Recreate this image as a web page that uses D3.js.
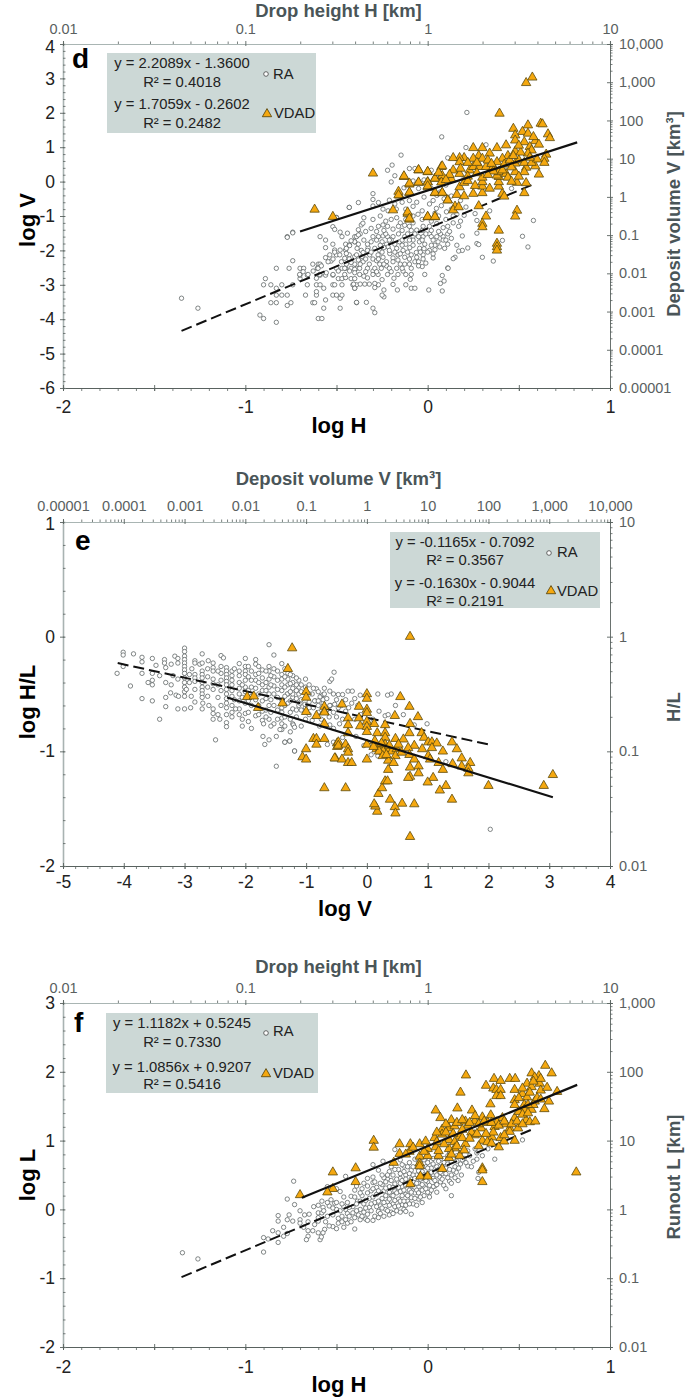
<!DOCTYPE html>
<html>
<head>
<meta charset="utf-8">
<script src="https://cdn.jsdelivr.net/npm/d3@7"></script>
<style>
body { margin: 0; background: #fff; }
svg { display: block; }
text { font-family: "Liberation Sans", Arial, sans-serif; }
</style>
</head>
<body>
<div id="chart"></div>
<script>
// panel d: log H, log V
let raD = [[-1.35,-3.39],[-1.26,-3.68],[-0.92,-3.88],[-0.90,-3.98],[-0.83,-4.09],[-0.60,-3.98],[-0.58,-3.98],[-0.57,-3.68],[-0.48,-3.68],[-0.86,-3.52],[-0.83,-3.52],[-0.77,-3.6],[-0.75,-3.52],[-0.63,-3.52],[-0.62,-3.52],[-0.56,-3.44],[-0.48,-3.39],[-0.39,-3.52],[-0.83,-3.3],[-0.80,-3.3],[-0.77,-3.3],[-0.67,-3.3],[-0.61,-3.3],[-0.61,-3.2],[-0.52,-3.3],[-0.50,-3.3],[-0.47,-3.3],[-0.90,-3.0],[-0.86,-3.0],[-0.83,-3.1],[-0.80,-3.0],[-0.74,-3.0],[-0.66,-3],[-0.61,-3],[-0.59,-3],[-0.57,-3.1],[-0.52,-3],[-0.51,-3],[-0.47,-3],[-0.41,-3],[-0.39,-3],[-0.40,-3.1],[-0.89,-2.82],[-0.70,-2.82],[-0.66,-2.72],[-0.83,-2.52],[-0.76,-2.52],[-0.70,-2.52],[-0.68,-2.52],[-0.74,-2.3],[-0.63,-2.4],[-0.60,-2.4],[-0.59,-2.4],[-0.605,-2.52],[-0.70,-2.72],[-0.61,-2.81],[-0.59,-2.72],[-0.56,-2.72],[-0.52,-2.72],[-0.49,-2.82],[-0.47,-2.82],[-0.45,-2.79],[-0.42,-2.82],[-0.40,-2.82],[-0.50,-2.52],[-0.47,-2.52],[-0.45,-2.52],[-0.42,-2.52],[-0.39,-2.52],[-0.56,-2.21],[-0.53,-2.31],[-0.50,-2.13],[-0.455,-2.23],[-0.43,-2.13],[-0.40,-2.18],[-0.56,-1.92],[-0.52,-1.82],[-0.51,-1.99],[-0.48,-1.99],[-0.45,-1.82],[-0.45,-1.99],[-0.43,-1.84],[-0.40,-1.6],[-0.40,-1.75],[-0.59,-1.6],[-0.56,-1.7],[-0.47,-1.6],[-0.77,-1.6],[-0.74,-1.47],[-0.52,-1.31],[-0.51,-1.39],[-0.48,-1.47],[-0.50,-1.04],[-0.43,-0.75],
[0.077,1.30],[-0.146,0.77],[-0.195,0.48],[-0.22,0.33],[-0.18,0.17],[-0.20,-0.01],[-0.10,0.38],[-0.07,0.38],[-0.30,-0.35],[-0.30,-0.52],[-0.38,-0.61],[-0.43,-0.75],[-0.30,-0.71],[-0.27,-0.61],[-0.21,-0.54],[-0.74,-1.49],[-0.77,-1.62],[-0.50,-1.05],
[0.215,2.01],[0.11,0.69],[0.21,0.99],[0.32,1.07],[0.02,0.33],[0.58,-1.13],[0.52,-1.59],[0.55,-1.9],[0.36,-2.31],[0.30,-2.2],[0.41,-1.71],[0.27,-1.5],[0.27,-1.8],[0.28,-1.83],[0.22,-1.93],[0.19,-2.0],[0.17,-2.02],[0.15,-2.2],[0.14,-2.24],[0.11,-2.51],[0.03,-2.22],[-0.03,-2.47],[0.19,-1.58],[0.27,-1.13],[0.34,-0.85],[0.26,-0.93],[0.21,-0.74],[0.46,-0.2],
[-0.30,-3.68],[-0.29,-3.81],[-0.39,-3.51],[-0.336,-3.51],[-0.24,-3.35],[-0.25,-3.3],[-0.24,-3.15],[-0.166,-3.15],[-0.09,-3.1],[-0.07,-3.1],[0.006,-3.15],[0.08,-3.18],[0.07,-2.96],[0.09,-2.89],[0.08,-2.73],[-0.016,-2.7],[-0.12,-2.7],[-0.09,-2.7],[-0.095,-2.84],[-0.12,-3.0],[-0.19,-2.99],[-0.185,-2.81],[-0.163,-2.7],[-0.27,-3.0],[-0.29,-2.96],[-0.32,-2.98],[-0.345,-2.98],[-0.37,-2.98],[-0.406,-2.98],[-0.29,-3.08],[-0.40,-3.1],
[-0.364,-1.26],[-0.355,-1.21],[-0.38,-1.4],[-0.31,-1.36],[-0.27,-1.3],[-0.245,-1.26],[-0.19,-1.38],[-0.126,-1.27],[-0.06,-1.41],[-0.025,-1.3],[0.01,-1.3],[0.05,-1.22],[0.085,-1.34],
[-0.39,-1.6],[-0.37,-1.52],[-0.30,-1.6],[-0.27,-1.6],[-0.245,-1.58],[-0.22,-1.6],[-0.19,-1.6],[-0.16,-1.52],[-0.126,-1.6],[-0.08,-1.6],[-0.025,-1.6],[0.01,-1.52],[0.05,-1.6],[0.085,-1.6],[0.11,-1.52],
[-0.40,-1.75],[-0.38,-1.82],[-0.31,-1.75],[-0.25,-1.75],[-0.225,-1.82],[-0.20,-1.7],[-0.155,-1.75],[-0.12,-1.82],[-0.08,-1.7],[-0.045,-1.75],[-0.016,-1.82],[0.057,-1.75],[0.085,-1.7],
[-0.446,-1.94],[-0.428,-1.86],[-0.387,-1.94],[-0.364,-2.0],[-0.327,-1.92],[-0.29,-1.94],[-0.263,-2.0],[-0.217,-1.9],[-0.17,-1.94],[-0.135,-2.0],[-0.098,-1.92],[-0.044,-1.94],[0.01,-2.0],[0.066,-1.9],[0.093,-1.94],
[-0.537,-2.13],[-0.51,-2.05],[-0.482,-2.13],[-0.446,-2.09],[-0.39,-2.13],[-0.354,-2.06],[-0.318,-2.13],[-0.272,-2.13],[-0.245,-2.2],[-0.208,-2.09],[-0.163,-2.13],[-0.126,-2.2],[-0.09,-2.13],[-0.062,-2.06],[-0.025,-2.13],[0.03,-2.1],
[-0.546,-2.33],[-0.519,-2.25],[-0.473,-2.33],[-0.446,-2.4],[-0.354,-2.33],[-0.30,-2.25],[-0.263,-2.4],[-0.226,-2.33],[-0.163,-2.28],[-0.126,-2.4],[-0.07,-2.33],[-0.025,-2.25],
[-0.601,-2.52],[-0.628,-2.6],[-0.583,-2.45],[-0.49,-2.6],[-0.455,-2.52],[-0.428,-2.6],[-0.40,-2.55],[-0.373,-2.52],[-0.30,-2.6],[-0.254,-2.52],[-0.226,-2.45],[-0.17,-2.52],[-0.135,-2.6],[0.112,-2.52],
[-0.702,-2.7],[-0.683,-2.62],[-0.656,-2.7],[-0.592,-2.7],[-0.556,-2.65],[-0.519,-2.7],[-0.455,-2.7],[-0.40,-2.65],[-0.373,-2.7],[-0.30,-2.7],[-0.272,-2.7],
[-0.245,-0.8],[-0.217,-0.85],[-0.172,-0.8],[-0.117,-0.95],[-0.08,-0.72],[-0.053,-0.95],[0.01,-0.65],[0.048,-0.78],[0.075,-0.7],[0.103,-0.88],[-0.35,-1.05],[-0.30,-1.1],[-0.26,-1.0],[-0.23,-1.15],[-0.2,-1.1],[-0.17,-1.05],[-0.15,-1.2],[-0.12,-1.1],[-0.08,-1.2],[-0.03,-1.1],[0.02,-1.15],[0.06,-1.0],[0.1,-1.1],[0.14,-1.2],[0.16,-0.95],[0.13,-0.8],[0.17,-1.3],[0.12,-1.45],[0.18,-0.55],[0.13,-0.42],[0.09,-0.5],[0.05,-0.4],[0.03,-0.55],[0.1,-0.1],[0.2,0.1],[-0.02,0.05],[-0.08,0.02],[0.13,-1.65],[0.16,-1.85],[-0.01,-2.37],[0.04,-1.98],
[-0.35,-1.7],[-0.33,-1.82],[-0.28,-1.7],[-0.26,-1.85],[-0.23,-1.52],[-0.21,-1.7],[-0.18,-1.82],[-0.14,-1.7],[-0.11,-1.52],[-0.1,-1.7],[-0.07,-1.52],[-0.05,-1.6],[-0.03,-1.7],[-0.01,-1.52],[0.02,-1.6],[0.03,-1.7],[0.04,-1.85],[0.07,-1.52],[0.1,-1.7],[0.11,-1.82],[-0.36,-2.18],[-0.34,-2.25],[-0.33,-2.0],[-0.31,-2.05],[-0.28,-2.3],[-0.25,-2.05],[-0.24,-1.92],[-0.21,-2.0],[-0.19,-2.22],[-0.18,-2.05],[-0.15,-2.1],[-0.14,-1.85],[-0.11,-2.05],[-0.1,-2.25],[-0.08,-1.85],[-0.06,-2.2],[-0.04,-2.05],[-0.02,-1.95],[0.0,-2.05],[0.02,-1.85],[-0.4,-2.4],[-0.38,-2.28],[-0.37,-2.4],[-0.33,-2.52],[-0.32,-2.4],[-0.29,-2.52],[-0.27,-2.25],[-0.24,-2.4],[-0.21,-2.52],[-0.19,-2.33],[-0.15,-2.4],[-0.14,-2.52],[-0.1,-2.4],[-0.09,-2.52],[-0.05,-2.33],[-0.05,-2.45],[-0.43,-2.25],[-0.42,-2.35],[-0.34,-2.62],[-0.35,-2.75],[-0.33,-2.8],[-0.28,-2.62],[-0.25,-2.85],[-0.22,-2.7],[-0.2,-2.62],[-0.42,-1.72],[-0.44,-1.5],[-0.38,-1.55],[-0.34,-1.45],[-0.28,-1.45],[-0.24,-1.42],[-0.22,-1.3],[-0.16,-1.3],[-0.14,-1.42],[-0.1,-1.3],[-0.09,-1.42],[-0.03,-1.42],[0.02,-1.42],[0.06,-1.45],[0.11,-1.3],[0.14,-1.0],[-0.12,-0.8],[-0.03,-0.85],[0.0,-1.0],[-0.06,-0.6],[-0.1,-0.55],[-0.18,-0.65],[-0.14,-0.6],[-0.02,-0.45],[0.07,-0.3],[0.02,-0.2],[-0.05,-0.2],[-0.13,-0.18],[-0.08,-1.0],[0.04,-0.92],[0.18,-1.15],[0.2,-0.98]];
let vdadD = [[0.574,3.03],[0.54,2.87],[0.394,1.98],[0.62,1.69],[0.63,1.67],[0.55,1.64],[0.47,1.54],[0.52,1.45],[0.55,1.40],[0.48,1.35],[0.48,1.2],[0.66,1.38],[0.67,1.27],[0.53,1.15],[0.59,1.18],[0.61,1.08],[0.56,1.01],[0.57,0.91],[0.55,0.82],[0.43,1.06],[0.48,0.88],[0.38,0.98],[0.34,0.82],[0.30,0.98],[0.25,0.98],[0.28,0.75],[0.44,0.75],[0.41,0.67],[0.38,0.57],[0.30,0.67],[0.25,0.67],[0.20,0.69],[0.175,0.69],[0.14,0.69],[0.175,0.57],[0.65,0.79],[0.64,0.67],[0.64,0.55],[0.59,0.45],[0.54,0.41],[0.53,0.28],[0.48,0.53],[0.48,0.28],[0.61,0.21],[0.54,-0.04],[0.49,-0.03],[0.53,-0.33],[0.41,-0.35],[0.42,-0.43],[0.49,-0.84],[0.48,-1.01],[0.32,-1.01],[0.30,-1.22],[0.30,-1.32],[0.39,-1.42],[0.38,-1.8],[0.38,-1.9],[0.38,-2.0],[0.28,-0.71],[0.15,-0.72],[0.14,-0.83],[0.17,-0.74],[0.11,-0.54],[0.16,-0.38],[0.20,-0.42],[0.25,-0.35],[0.30,-0.33],[0.30,-0.14],[0.30,-0.01],[0.30,0.12],[0.39,-0.14],[0.39,-0.01],[0.39,0.14],[0.175,-0.16],[0.20,-0.03],[0.175,0.23],[0.14,0.33],[0.075,0.43],[0.075,0.14],[0.08,-0.33],[0.04,-0.33],[0.04,0.09],[0,0.28],[-0.05,0.33],[0,-0.01],[0,-0.16],[-0.05,-0.03],[-0.10,-0.08],[-0.10,-0.33],[-0.13,0.14],[-0.155,-0.4],[-0.11,-0.93],[-0.10,-1.1],[0,-1.03],[0.04,-1.03],[0.23,0.33],[0.25,0.43],[0.285,0.43],[0.32,0.43],[0.36,0.43],[0.38,0.18],[0.39,0.28],[0.43,0.23],[0.41,0.33],[0.13,0.07],[-0.30,0.24],[-0.62,-0.81],[-0.52,-1.02],[-0.13,0.16],[-0.05,0.34],[0,0.29],[0.08,0.45],[0.04,0.09],[0.08,0.17],[-0.10,-0.05],[-0.05,-0.02],[0,-0.02],[0,-0.13],[0.075,-0.02],[-0.16,-0.29],[-0.16,-0.39],[-0.10,-0.31],[0.04,-0.32],[0.08,-0.32],[0.11,-0.54],[-0.19,-0.83],[-0.11,-0.89],[-0.10,-1.07],[0,-1.02],[0.04,-1.02],
[0.22,0.55],[0.27,0.55],[0.33,0.62],[0.35,0.52],[0.42,0.5],[0.45,0.62],[0.46,0.42],[0.5,0.62],[0.53,0.55],[0.57,0.55],[0.6,0.65],[0.56,0.7],[0.36,0.3],[0.33,0.2],[0.27,0.25],[0.22,0.15],[0.18,0.38],[0.12,0.2],[0.44,0.12],[0.5,0.15],[0.46,0.0],[0.26,-0.12],[0.34,-0.2],[0.22,0.02],[0.1,0.05],[0.06,0.26],[0.47,0.75],[0.51,0.85],[0.58,1.3],[0.5,1.05]];
let raFitD = [[-1.35,-4.34],[0.58,-0.08]];
let vdadFitD = [[-0.70,-1.45],[0.82,1.14]];

// panel e: log V, log H/L
let raE = [[-4.01,-0.136],[-4.01,-0.16],[-4.11,-0.32],[-3.84,-0.15],[-3.70,-0.18],[-3.70,-0.22],[-4.01,-0.26],[-3.89,-0.43],[-3.70,-0.32],[-3.53,-0.19],[-3.47,-0.25],[-3.70,-0.54],[-3.53,-0.56],[-3.60,-0.40],[-3.53,-0.38],[-3.53,-0.42],[-3.53,-0.32],[-3.41,-0.72],[-3.31,-0.61],[-3.31,-0.53],[-3.23,-0.49],[-3.31,-0.40],[-3.41,-0.34],[-3.33,-0.20],[-3.33,-0.23],[-3.31,-0.27],[-3.16,-0.17],[-3.11,-0.19],[-3.11,-0.23],[-3.19,-0.34],[-3.11,-0.37],[-3.14,-0.51],[-3.10,-0.52],[-3.11,-0.63],[-3.0,-0.63],
[-3,-0.10],[-3,-0.13],[-3,-0.17],[-3,-0.2],[-3,-0.23],[-3,-0.26],[-3,-0.29],[-3,-0.32],[-3,-0.36],[-3,-0.4],[-3,-0.44],[-3,-0.48],[-3,-0.52],[-2.97,-0.46],[-2.89,-0.52],[-2.83,-0.33],[-2.83,-0.36],[-2.83,-0.21],[-2.83,-0.23],[-2.71,-0.15],[-2.75,-0.24],[-2.71,-0.23],[-2.83,-0.57],[-2.71,-0.63],[-2.83,-0.39],[-2.83,-0.46],
[-2.71,-0.30],[-2.71,-0.33],[-2.71,-0.36],[-2.71,-0.4],[-2.71,-0.44],[-2.71,-0.47],[-2.71,-0.5],[-2.71,-0.53],[-2.61,-0.21],[-2.53,-0.23],[-2.53,-0.27],[-2.53,-0.3],[-2.53,-0.37],[-2.53,-0.41],[-2.53,-0.46],[-2.53,-0.63],[-2.53,-0.67],[-2.53,-0.72],[-2.49,-0.90],[-2.40,-0.165],[-2.36,-0.185],[-2.40,-0.26],[-2.40,-0.32],[-2.40,-0.38],[-2.40,-0.47],[-2.40,-0.6],[-2.45,-0.53],
[-2.31,-0.27],[-2.31,-0.30],[-2.31,-0.33],[-2.31,-0.36],[-2.31,-0.39],[-2.31,-0.42],[-2.31,-0.46],[-2.31,-0.5],[-2.31,-0.54],[-2.31,-0.58],[-2.31,-0.62],[-2.31,-0.68],[-2.31,-0.75],[-2.31,-0.785],
[-2.22,-0.3],[-2.22,-0.34],[-2.22,-0.38],[-2.22,-0.42],[-2.22,-0.47],[-2.22,-0.52],[-2.22,-0.6],[-2.22,-0.66],[-2.22,-0.7],[-2.1,-0.235],[-2.1,-0.3],[-2.1,-0.34],[-2.1,-0.4],[-2.1,-0.45],[-2.1,-0.5],[-2.1,-0.56],[-2.1,-0.63],[-2.1,-0.68],[-2.0,-0.19],[-2.0,-0.26],[-2.0,-0.3],[-2.0,-0.33],[-2.0,-0.38],[-2.0,-0.44],[-2.0,-0.48],[-2.0,-0.58],[-2.0,-0.67],[-1.9,-0.3],[-1.9,-0.38],[-1.9,-0.44],[-1.9,-0.52],[-1.9,-0.6],[-1.83,-0.2],[-1.83,-0.24],[-1.83,-0.33],[-1.83,-0.38],[-1.83,-0.45],[-1.83,-0.55],[-1.83,-0.69],
[-1.72,-0.29],[-1.72,-0.36],[-1.72,-0.42],[-1.72,-0.47],[-1.72,-0.56],[-1.72,-0.65],[-1.72,-0.73],[-1.61,-0.07],[-1.61,-0.26],[-1.61,-0.3],[-1.61,-0.37],[-1.61,-0.44],[-1.61,-0.5],[-1.61,-0.6],[-1.61,-0.72],[-1.53,-0.16],[-1.53,-0.28],[-1.53,-0.35],[-1.53,-0.43],[-1.53,-0.5],[-1.53,-0.6],[-1.53,-0.76],[-1.40,-0.235],[-1.40,-0.33],[-1.40,-0.37],[-1.40,-0.42],[-1.40,-0.47],[-1.40,-0.55],[-1.40,-0.62],[-1.40,-0.66],[-1.40,-0.71],[-1.40,-0.76],[-1.40,-0.81],[-1.30,-0.32],[-1.30,-0.37],[-1.30,-0.42],[-1.30,-0.5],[-1.30,-0.58],[-1.22,-0.34],[-1.22,-0.4],[-1.22,-0.45],[-1.22,-0.53],[-1.22,-0.63],[-1.22,-0.76],[-1.12,-0.38],[-1.12,-0.44],[-1.12,-0.5],[-1.12,-0.6],[-1.01,-0.37],[-1.01,-0.44],[-1.01,-0.62],[-1.01,-0.72],[-0.83,-0.455],[-0.9,-0.5],[-0.85,-0.56],[-0.75,-0.52],[-0.72,-0.58],[-0.61,-0.39],[-0.58,-0.37],[-0.54,-0.31],[-0.6,-0.6],[-1.49,-1.13],[-1.19,-0.997],[-1.71,-0.87],[-1.61,-0.9],[-1.68,-0.94],[-1.49,-0.87],[-1.43,-0.81],[-1.35,-0.92],[-1.27,-0.91],
[2.03,-1.68],[0.99,-0.76],[0.78,-0.77],[0.60,-0.68],[0.40,-0.50],[0.34,-0.51],[0.47,-0.60],[0.18,-0.50],[0.20,-0.65],[0.30,-0.69],[0.35,-0.68],[-0.20,-0.54],[-0.11,-0.51],[-0.31,-0.475],[-0.24,-0.475],[-0.47,-0.505],[-0.40,-0.505],[-0.61,-0.475],[-0.61,-0.60],[-0.53,-0.59],[-0.47,-0.62],[-0.77,-0.525],[-0.72,-0.505],[-0.72,-0.55],[-0.86,-0.56],[-1.19,-0.997],[-1.27,-0.91],[-1.35,-0.92],[-1.21,-0.77],[-1.19,-0.79],[-1.10,-0.58],[-1.02,-0.59],[-1.31,-0.50],[-1.22,-0.50],[-0.65,-0.94],[-0.55,-0.92],[-0.61,-0.77],[0.07,-1.03],[0.18,-1.04],[1.30,-1.09],[-0.95,-0.68],[-0.9,-0.73],[-0.8,-0.66],[-0.75,-0.72],[-0.5,-0.7],[-0.45,-0.76],[-0.3,-0.62],[-0.2,-0.72],[-0.1,-0.68],[0.1,-0.72],[-0.4,-0.88],[-0.18,-0.87],[-0.05,-0.95],
[-2.7,-0.58],[-2.62,-0.35],[-2.62,-0.44],[-2.62,-0.52],[-2.6,-0.6],[-2.45,-0.3],[-2.45,-0.42],[-2.45,-0.68],[-2.18,-0.28],[-2.18,-0.55],[-2.16,-0.63],[-2.05,-0.42],[-2.05,-0.53],[-2.05,-0.72],[-2.05,-0.78],[-1.95,-0.26],[-1.95,-0.35],[-1.95,-0.47],[-1.95,-0.56],[-1.95,-0.66],[-1.95,-0.74],[-1.9,-0.8],[-1.78,-0.26],[-1.78,-0.32],[-1.78,-0.4],[-1.78,-0.5],[-1.78,-0.6],[-1.78,-0.68],[-1.7,-0.76],[-1.66,-0.3],[-1.66,-0.4],[-1.66,-0.47],[-1.66,-0.54],[-1.66,-0.64],[-1.66,-0.7],[-1.58,-0.34],[-1.58,-0.42],[-1.58,-0.55],[-1.58,-0.66],[-1.58,-0.78],[-1.47,-0.3],[-1.47,-0.38],[-1.47,-0.46],[-1.47,-0.53],[-1.47,-0.64],[-1.47,-0.72],[-1.35,-0.28],[-1.35,-0.35],[-1.35,-0.44],[-1.35,-0.52],[-1.35,-0.6],[-1.35,-0.7],[-1.35,-0.78],[-1.26,-0.33],[-1.26,-0.41],[-1.26,-0.48],[-1.26,-0.56],[-1.26,-0.66],[-1.26,-0.72],[-1.26,-0.83],[-1.16,-0.36],[-1.16,-0.42],[-1.16,-0.47],[-1.16,-0.54],[-1.16,-0.64],[-1.16,-0.7],[-1.08,-0.42],[-1.08,-0.48],[-1.08,-0.55],[-1.08,-0.64],[-1.08,-0.78],[-0.95,-0.42],[-0.95,-0.5],[-0.95,-0.57],[-0.95,-0.62],[-0.88,-0.45],[-0.88,-0.62],[-0.8,-0.48],[-0.8,-0.56],[-0.8,-0.6],[-0.7,-0.45],[-0.7,-0.5],[-0.66,-0.54],[-0.66,-0.64],[-0.55,-0.5],[-0.5,-0.55],[-0.42,-0.6],[-0.35,-0.55],[-0.25,-0.58],[-0.15,-0.6],[-0.35,-0.65],[-0.55,-0.66],[-0.4,-0.72],[-0.62,-0.7],[-0.78,-0.78],[-0.55,-0.8],[-2.92,-0.33],[-2.92,-0.4],[-2.62,-0.28],[-2.88,-0.28],[-3.22,-0.24],[-3.22,-0.42],[-2.9,-0.62],[-2.42,-0.72]];
let vdadE = [[-1.23,-0.10],[-1.30,-0.28],[-1.97,-0.525],[-1.86,-0.52],[-1.79,-0.62],[-1.39,-0.58],[-1.0,-0.48],[-1.0,-0.53],[-1.0,-0.655],[-0.83,-0.69],[-0.70,-0.61],[-0.70,-0.655],[-0.70,-0.76],[-0.88,-0.89],[-0.83,-0.89],[-0.70,-0.89],[-0.83,-0.94],[-1.0,-0.98],[-1.06,-1.05],[-1.0,-1.07],[-0.52,-1.06],[-0.49,-0.93],[-0.49,-0.96],
[3.06,-1.205],[2.91,-1.30],[2.0,-1.30],[1.40,-1.42],[0.78,-1.46],[0.58,-1.455],[0.46,-1.485],[0.47,-1.54],[0.17,-1.525],[0.14,-1.48],[0.12,-1.46],[0.38,-1.42],[0.19,-1.37],[0.25,-1.32],[0.30,-1.26],[0.34,-1.26],[0.71,-1.745],[-0.35,-1.32],[-0.53,-1.06],[-0.41,-1.07],[-0.31,-1.10],[-0.25,-1.10],[0,-1.07],[-0.47,-0.92],[-0.47,-0.95],[-0.35,-0.94],[-0.31,-0.98],[-0.31,-1.01],[-0.70,-0.66],[-0.41,-0.59],[-0.13,-0.61],[0,-0.50],[0,-0.54],[0,-0.635],[0,-0.665],[-0.31,-0.71],[-0.31,-0.77],[-0.13,-0.71],[-0.11,-0.78],[0.12,-0.76],[0,-0.74],[0,-0.785],[0,-0.83],[-0.31,-0.84],[0.17,-0.84],[0.30,-0.77],[0.30,-0.84],[0.30,-0.88],[0.47,-0.89],[0.60,-0.895],[0.70,-0.84],[0.71,-0.76],[0.55,-0.525],[0.70,-0.61],[0.46,-0.69],[0.84,-0.70],[0.90,-0.84],[0.94,-0.88],[1.01,-0.92],[1.07,-0.92],[1.15,-0.93],[1.07,-0.97],[1.40,-0.92],[1.48,-0.98],[1.25,-1.0],[0.91,-0.98],[0.78,-0.95],[0.68,-0.97],[0,-0.94],[0.13,-0.91],[0.16,-0.98],[0.22,-0.97],[0.30,-0.94],[0.33,-0.98],[0.41,-1.0],[0.49,-0.98],[0.47,-1.04],[0.57,-1.01],[0.70,-1.03],[0.78,-1.07],[1.01,-1.04],[1.04,-1.07],[1.18,-1.10],[1.41,-1.11],[1.56,-1.06],[1.56,-1.13],[1.70,-1.10],[1.67,-1.15],[1.67,-1.19],[1.25,-1.16],[0.85,-1.13],[0.85,-1.19],[0.71,-1.14],[0.71,-1.22],[0.68,-1.23],[1.09,-1.23],[1.0,-1.27],[1.30,-1.30],[1.20,-1.34],[0.35,-1.08],[0.44,-1.10],[0.35,-1.16],[0.71,0.0],[0.24,-0.93],[0.27,-1.0],[0.37,-0.95],[0.52,-0.94],[0.2,-1.0],[0.26,-1.04],[0.32,-1.03],[0.11,-0.96],[-0.7,-1.32]];
let raFitE = [[-4.1,-0.23],[2.0,-0.94]];
let vdadFitE = [[-2.3,-0.53],[3.06,-1.40]];

// panel f: log H, log L
let raF = [[-1.345,-0.63],[-1.26,-0.72],[-0.90,-0.62],[-0.735,0.41],[-0.77,0.15],[-0.73,0.07],[-0.82,-0.09],[-0.82,-0.17],[-0.79,-0.26],[-0.76,-0.08],[-0.77,-0.15],[-0.74,-0.17],[-0.70,-0.15],[-0.70,-0.20],[-0.85,-0.31],[-0.82,-0.34],[-0.79,-0.39],[-0.77,-0.35],[-0.82,-0.48],[-0.875,-0.43],[-0.90,-0.41],[-0.675,-0.08],[-0.65,-0.07],[-0.656,-0.18],[-0.656,-0.31],[-0.63,-0.31],[-0.656,-0.39],[-0.665,-0.44],[-0.59,-0.44],[-0.583,-0.40],[-0.565,-0.29],[-0.574,-0.34],[-0.60,-0.34],[-0.62,-0.22],[-0.60,-0.17],[-0.60,-0.12],[-0.625,0.04],[-0.60,0.06],[-0.574,0.03],[-0.60,-0.05],[-0.58,-0.05],[-0.55,0.33],[-0.45,0.48],[-0.30,0.65],[-0.245,0.70],[-0.18,0.87],[-0.40,-0.285],[-0.09,-0.07],[0.13,0.20],[0.01,0.24],[0.01,0.18],[0.368,0.73],[0.52,1.01],[0.276,0.45],[0.28,0.54],[0.22,0.63],[0.185,0.50],[0.157,0.54],[0.167,0.42],[0.12,0.41],[0.088,0.35],[0.04,0.34],[0.066,0.47],[0.27,0.82],[0.27,0.73],
[-0.53,0.14],[-0.51,0.09],[-0.54,0.05],[-0.50,0.0],[-0.52,-0.08],[-0.49,-0.13],[-0.47,-0.1],[-0.45,-0.15],[-0.44,-0.2],[-0.52,-0.25],[-0.49,-0.2],[-0.48,-0.02],[-0.46,0.04],[-0.44,0.1],[-0.42,0.19],[-0.41,-0.05],[-0.41,0.04],[-0.40,0.28],[-0.39,0.34],[-0.385,0.12],[-0.38,-0.08],[-0.37,0.0],[-0.36,0.2],[-0.35,0.38],[-0.35,0.08],[-0.34,-0.14],[-0.33,-0.07],[-0.32,0.03],[-0.32,0.16],[-0.31,0.27],[-0.30,0.47],[-0.30,0.39],[-0.29,-0.1],[-0.29,0.1],[-0.28,0.22],[-0.28,0.32],[-0.27,-0.03],[-0.26,0.05],[-0.25,0.16],[-0.25,0.36],[-0.24,0.27],[-0.24,-0.1],[-0.23,0.0],[-0.22,0.44],[-0.22,0.11],[-0.21,0.33],[-0.21,0.55],[-0.20,0.21],[-0.20,-0.04],[-0.19,0.5],[-0.19,0.08],[-0.18,0.27],[-0.18,0.37],[-0.17,-0.02],[-0.16,0.58],[-0.16,0.15],[-0.15,0.45],[-0.15,0.26],[-0.14,0.07],[-0.14,0.33],[-0.13,0.63],[-0.13,0.0],[-0.12,0.22],[-0.12,0.5],[-0.11,0.38],[-0.11,0.12],[-0.10,0.68],[-0.10,0.28],[-0.09,0.57],[-0.09,0.44],[-0.09,0.17],[-0.08,0.08],[-0.08,0.33],[-0.07,0.73],[-0.07,0.24],[-0.06,0.5],[-0.06,0.62],[-0.05,0.15],[-0.05,0.38],[-0.04,0.28],[-0.04,0.7],[-0.03,0.45],[-0.03,0.55],[-0.02,0.2],[-0.02,0.33],[-0.01,0.62],[-0.01,0.75],[0.0,0.4],[0.0,0.52],[0.0,0.25],[0.02,0.6],[0.02,0.7],[0.03,0.45],[0.03,0.33],[0.04,0.54],[0.05,0.76],[0.05,0.62],[0.07,0.68],[0.07,0.4],[0.08,0.52],[0.09,0.74],[0.1,0.6],[0.11,0.46],[0.12,0.82],[0.13,0.7],[0.14,0.57],[0.16,0.78],[0.18,0.66],[0.2,0.74],[0.22,0.85],[-0.15,0.72],[-0.2,0.62],[-0.24,0.46],[-0.27,0.57],[-0.33,0.45],[-0.36,0.3],[-0.4,0.18],[-0.46,0.18],[-0.48,0.26],[-0.5,0.3],[-0.44,-0.06],[-0.37,-0.15],[-0.3,-0.16],[-0.21,-0.08],[-0.15,-0.04],[-0.06,0.06],[-0.03,0.1],[0.05,0.25],[0.1,0.3],[0.13,0.38],[0.15,0.46],[-0.55,-0.1],[-0.57,-0.02],[-0.5,-0.28],[-0.46,-0.26],
[-0.47,0.08],[-0.45,0.0],[-0.43,0.03],[-0.43,-0.1],[-0.4,-0.12],[-0.39,-0.02],[-0.39,0.08],[-0.37,0.12],[-0.37,0.24],[-0.35,-0.04],[-0.34,0.02],[-0.34,0.13],[-0.33,0.24],[-0.33,0.34],[-0.31,-0.02],[-0.31,0.08],[-0.3,0.18],[-0.3,0.3],[-0.29,0.4],[-0.28,0.04],[-0.27,0.12],[-0.27,0.27],[-0.26,0.38],[-0.26,-0.06],[-0.25,0.02],[-0.25,0.5],[-0.24,0.1],[-0.23,0.2],[-0.23,0.31],[-0.23,0.4],[-0.22,-0.02],[-0.22,0.5],[-0.21,0.06],[-0.21,0.15],[-0.21,0.25],[-0.2,0.42],[-0.19,0.32],[-0.19,0.2],[-0.18,0.13],[-0.18,0.04],[-0.18,0.58],[-0.17,0.44],[-0.17,0.24],[-0.16,0.32],[-0.16,0.05],[-0.15,0.12],[-0.15,0.38],[-0.15,0.52],[-0.14,0.2],[-0.14,0.42],[-0.14,0.65],[-0.13,0.28],[-0.13,0.12],[-0.13,0.55],[-0.12,0.06],[-0.12,0.35],[-0.12,0.44],[-0.11,0.2],[-0.11,0.62],[-0.1,0.35],[-0.1,0.52],[-0.1,0.08],[-0.09,0.25],[-0.08,0.4],[-0.08,0.5],[-0.08,0.62],[-0.07,0.16],[-0.07,0.32],[-0.07,0.45],[-0.06,0.28],[-0.06,0.38],[-0.05,0.56],[-0.05,0.68],[-0.05,0.24],[-0.04,0.44],[-0.04,0.18],[-0.03,0.36],[-0.03,0.62],[-0.03,0.28],[-0.02,0.5],[-0.02,0.72],[-0.01,0.42],[-0.01,0.3],[0.0,0.6],[0.0,0.68],[0.01,0.35],[0.01,0.48],[0.02,0.28],[0.02,0.54],[0.03,0.66],[0.03,0.74],[0.04,0.42],[0.05,0.5],[0.05,0.36],[0.06,0.58],[0.06,0.7],[0.07,0.54],[0.08,0.44],[0.08,0.62],[0.09,0.68],[0.1,0.52],[0.11,0.66],[0.11,0.78],[0.12,0.58],[0.13,0.5],[0.14,0.74],[0.15,0.62],[0.16,0.7],[0.17,0.6],[0.18,0.82],[0.19,0.72],[0.2,0.86],[0.21,0.68],[0.23,0.78],[0.24,0.62],[0.25,0.7],[0.26,0.88],[0.3,0.78],[0.33,0.88],[-0.5,0.1],[-0.52,0.02],[-0.47,-0.18],[-0.42,-0.18],[-0.36,-0.1],[-0.33,-0.16],[-0.27,-0.12],[-0.19,-0.06],[-0.12,-0.03],[-0.68,-0.26],[-0.7,-0.02],[-0.56,-0.18],[-0.54,-0.24],[-0.55,0.1],[-0.58,0.12]];
let vdadF = [[0.645,2.09],[0.68,1.98],[0.57,1.98],[0.61,1.94],[0.587,1.92],[0.21,1.95],[0.364,1.90],[0.40,1.87],[0.45,1.90],[0.48,1.90],[0.32,1.80],[0.36,1.76],[0.377,1.74],[0.40,1.74],[0.377,1.65],[0.40,1.65],[0.18,1.70],[0.477,1.74],[0.545,1.83],[0.57,1.78],[0.614,1.83],[0.62,1.73],[0.655,1.77],[0.71,1.71],[0.665,1.57],[0.64,1.46],[0.587,1.57],[0.52,1.68],[0.545,1.63],[0.477,1.59],[0.477,1.52],[0.53,1.52],[0.53,1.45],[0.57,1.45],[0.344,1.53],[0.346,1.37],[0.163,1.47],[0.243,1.44],[0.044,1.44],[0.07,1.33],[0.13,1.30],[0.207,1.28],[0.258,1.28],[0.30,1.34],[0.41,1.33],[0.477,1.33],[0.54,1.30],[0.56,1.27],[0.59,1.28],[0.117,1.18],[0.148,1.21],[0.079,1.16],[0.079,1.09],[0.294,1.18],[0.367,1.20],[0.45,1.18],[0.496,1.18],[0.45,1.13],[0.038,1.04],[0.117,1.01],[0.176,1.06],[0.258,1.08],[0.353,1.05],[0.40,1.04],[0.419,0.99],[0.30,1.0],[0.327,0.98],[0.477,1.0],[0.28,0.92],[0.39,0.905],[0.207,0.95],[0.148,0.98],[0.148,0.89],[0.117,0.88],[0.044,0.905],[0.0,0.88],[-0.044,0.95],[-0.011,0.99],[-0.095,0.95],[-0.154,0.95],[-0.296,1.0],[-0.296,0.90],[-0.154,0.81],[-0.10,0.84],[-0.044,0.77],[0.0,0.78],[0.06,0.78],[0.117,0.75],[0.176,0.78],[-0.044,0.67],[-0.044,0.63],[-0.186,0.68],[0.08,0.59],[0.30,0.60],[0.30,0.57],[0.30,0.40],[-0.04,0.48],[0.0,0.48],[-0.095,0.37],[-0.395,0.60],[-0.52,0.54],[-0.395,0.40],[-0.52,0.30],[-0.55,0.25],[-0.70,0.21],[0.815,0.54],[0.22,1.22],[0.26,1.36],[0.33,1.26],[0.38,1.27],[0.43,1.24],[0.5,1.42],[0.52,1.38],[0.19,1.16],[0.24,1.12],[0.36,1.12],
[0.1,1.24],[0.16,1.26],[0.19,1.3],[0.23,1.26],[0.28,1.24],[0.31,1.28],[0.35,1.26],[0.39,1.22],[0.42,1.28],[0.46,1.24],[0.49,1.28],[0.52,1.24],[0.55,1.4],[0.58,1.52],[0.6,1.62],[0.62,1.6],[0.5,1.62],[0.56,1.7],[0.52,1.76],[0.58,1.86],[0.62,1.9],[0.55,1.52],[0.05,1.12],[0.1,1.12],[0.14,1.1],[0.19,1.04],[0.23,1.03],[0.27,1.1],[0.32,1.1],[0.05,0.98],[0.09,0.95],[0.2,0.86],[0.13,0.8],[-0.02,0.84],[-0.08,0.9],[0.06,0.85],[0.35,0.96],[0.42,1.08],[0.16,0.92],[-0.12,0.8]];
let raFitF = [[-1.35,-0.985],[0.58,1.17]];
let vdadFitF = [[-0.69,0.17],[0.82,1.81]];

let panels = [
    {letter: "d", top: 44, xDomain: [-2, 1], yDomain: [4, -6], xLabels: [-2, -1, 0, 1], xMajor: 0.5, xMinor: 0.1, yLabels: [4, 3, 2, 1, 0, -1, -2, -3, -4, -5, -6],
     xTitle: "log H", yTitle: "log V", topTitle: "Drop height H [km]", rightTitle: "Deposit volume V [km³]",
     topDomain: [0.01, 10], topLabels: ["0.01", "0.1", "1", "10"], rightDomain: [0.00001, 10000], rightLabels: ["0.00001", "0.0001", "0.001", "0.01", "0.1", "1", "10", "100", "1,000", "10,000"],
     ra: raD, vdad: vdadD, raFit: raFitD, vdadFit: vdadFitD,
     box: [107, 53, 209, 80], eqX: 182, eqY: [68, 87, 109, 128],
     eq: ["y = 2.2089x - 1.3600", "R² = 0.4018", "y = 1.7059x - 0.2602", "R² = 0.2482"],
     raKey: [266, 74, 273, 79], vdadKey: [267, 114, 274, 118], letterPos: [72, 68],
     topTitleY: -27, topLabelY: -10, firstLabelDy: "0.5em", bottomLabelY: 25, xTitleX: 274, xTitleY: 45, yTitleDy: 4, rightTitleDy: -2},
    {letter: "e", top: 522, xDomain: [-5, 4], yDomain: [1, -2], xLabels: [-5, -4, -3, -2, -1, 0, 1, 2, 3, 4], xMajor: 1, xMinor: 0.2, yLabels: [1, 0, -1, -2],
     xTitle: "log V", yTitle: "log H/L", topTitle: "Deposit volume V [km³]", rightTitle: "H/L",
     topDomain: [0.00001, 10000], topLabels: ["0.00001", "0.0001", "0.001", "0.01", "0.1", "1", "10", "100", "1,000", "10,000"], rightDomain: [0.01, 10], rightLabels: ["0.01", "0.1", "1", "10"],
     ra: raE, vdad: vdadE, raFit: raFitE, vdadFit: vdadFitE,
     box: [390, 532, 210, 76], eqX: 465, eqY: [547, 565, 588, 606],
     eq: ["y = -0.1165x - 0.7092", "R² = 0.3567", "y = -0.1630x - 0.9044", "R² = 0.2191"],
     raKey: [549, 553, 557, 557], vdadKey: [551, 591, 557, 596], letterPos: [75, 550],
     topTitleY: -37, topLabelY: -11, firstLabelDy: "0.4em", bottomLabelY: 22, xTitleX: 280, xTitleY: 50, yTitleDy: 8, rightTitleDy: 13},
    {letter: "f", top: 1003, xDomain: [-2, 1], yDomain: [3, -2], xLabels: [-2, -1, 0, 1], xMajor: 0.5, xMinor: 0.1, yLabels: [3, 2, 1, 0, -1, -2],
     xTitle: "log H", yTitle: "log L", topTitle: "Drop height H [km]", rightTitle: "Runout L [km]",
     topDomain: [0.01, 10], topLabels: ["0.01", "0.1", "1", "10"], rightDomain: [0.01, 1000], rightLabels: ["0.01", "0.1", "1", "10", "100", "1,000"],
     ra: raF, vdad: vdadF, raFit: raFitF, vdadFit: vdadFitF,
     box: [106, 1013, 212, 80], eqX: 182, eqY: [1028, 1047, 1072, 1089],
     eq: ["y = 1.1182x + 0.5245", "R² = 0.7330", "y = 1.0856x + 0.9207", "R² = 0.5416"],
     raKey: [266, 1033, 273, 1036], vdadKey: [266, 1074, 273, 1078], letterPos: [74, 1032],
     topTitleY: -30, topLabelY: -10, firstLabelDy: "0.32em", bottomLabelY: 26, xTitleX: 274, xTitleY: 45, yTitleDy: 0, rightTitleDy: 2}
];

let width = 685;
let height = 1400;
let plotW = 547;
let plotH = 344;
let left = 63;

let svg = d3.select("#chart").append("svg")
    .attr("width", width)
    .attr("height", height);

let triangle = d3.symbol().type(d3.symbolTriangle).size(38)();

// ticks at every step, skipping float noise
function steps(domain, step) {
    let lo = Math.min(domain[0], domain[1]);
    let hi = Math.max(domain[0], domain[1]);
    return d3.range(Math.round((hi - lo) / step) + 1).map(i => +(lo + i * step).toFixed(3));
}

// all decades plus 2..9 between them
function logTicks(domain) {
    let out = [];
    let lo = Math.round(Math.log10(domain[0]));
    let hi = Math.round(Math.log10(domain[1]));
    for (let e = lo; e < hi; e++) {
        for (let m = 2; m < 10; m++) out.push(m * Math.pow(10, e));
    }
    return out;
}

function styleAxis(g, color, lineW) {
    g.select(".domain").attr("stroke", color).attr("stroke-width", lineW);
    g.selectAll("line").attr("stroke", "#59625f").attr("stroke-width", 0.8);
}

function drawPanel(p) {
    let g = svg.append("g").attr("transform", "translate(" + left + "," + p.top + ")");

    let x = d3.scaleLinear().domain(p.xDomain).range([0, plotW]);
    let y = d3.scaleLinear().domain(p.yDomain).range([0, plotH]);
    let xTop = d3.scaleLog().domain(p.topDomain).range([0, plotW]);
    let yRight = d3.scaleLog().domain(p.rightDomain).range([plotH, 0]);

    // minor ticks first, main axes on top of them
    g.append("g").attr("transform", "translate(0," + plotH + ")")
        .call(d3.axisBottom(x).tickValues(steps(p.xDomain, p.xMinor)).tickSize(3).tickFormat(""))
        .call(a => styleAxis(a, "#59625f", 1));
    g.append("g")
        .call(d3.axisLeft(y).tickValues(steps(p.yDomain, 0.2)).tickSize(-2.5).tickFormat(""))
        .call(a => styleAxis(a, "#a9b3b2", 1.6));
    g.append("g")
        .call(d3.axisTop(xTop).tickValues(logTicks(p.topDomain)).tickSize(2.5).tickFormat(""))
        .call(a => styleAxis(a, "#a9b5b3", 1.2));
    g.append("g").attr("transform", "translate(" + plotW + ",0)")
        .call(d3.axisRight(yRight).tickValues(logTicks(p.rightDomain)).tickSize(2.5).tickFormat(""))
        .call(a => styleAxis(a, "#59625f", 0.9));

    // major ticks cross the axis line
    let bottom = g.append("g").attr("transform", "translate(0," + plotH + ")")
        .call(d3.axisBottom(x).tickValues(steps(p.xDomain, p.xMajor)).tickSize(3).tickFormat(d => p.xLabels.includes(d) ? d : ""));
    bottom.select(".domain").remove();
    bottom.selectAll("line").attr("y1", -3).attr("stroke", "#59625f").attr("stroke-width", 0.9);
    bottom.selectAll("text").attr("dy", 0).attr("y", p.bottomLabelY).attr("font-size", 17.5).attr("font-family", "Liberation Sans").attr("fill", "#222");

    let leftAxis = g.append("g")
        .call(d3.axisLeft(y).tickValues(p.yLabels).tickSize(3).tickFormat(d => d));
    leftAxis.select(".domain").remove();
    leftAxis.selectAll("line").attr("x2", -3).attr("x1", 1.5).attr("stroke", "#59625f").attr("stroke-width", 0.9);
    leftAxis.selectAll("text").attr("x", -8).attr("font-size", 17.5).attr("font-family", "Liberation Sans").attr("fill", "#222")
        .attr("dy", (d, i) => i == 0 ? p.firstLabelDy : "0.32em");

    let topAxis = g.append("g")
        .call(d3.axisTop(xTop).tickValues(p.topLabels.map(d => +d.replace(",", ""))).tickSize(3).tickFormat((d, i) => p.topLabels[i]));
    topAxis.select(".domain").remove();
    topAxis.selectAll("line").attr("y1", 2).attr("stroke", "#59625f").attr("stroke-width", 0.9);
    topAxis.selectAll("text").attr("dy", 0).attr("y", p.topLabelY).attr("font-size", 14.5).attr("font-family", "Liberation Sans").attr("fill", "#5a5f5f");

    let rightAxis = g.append("g").attr("transform", "translate(" + plotW + ",0)")
        .call(d3.axisRight(yRight).tickValues(p.rightLabels.map(d => +d.replace(",", ""))).tickSize(3).tickFormat((d, i) => p.rightLabels[i]));
    rightAxis.select(".domain").remove();
    rightAxis.selectAll("line").attr("x1", -3).attr("x2", 3).attr("stroke", "#59625f").attr("stroke-width", 0.9);
    rightAxis.selectAll("text").attr("x", 9).attr("font-size", 14.5).attr("font-family", "Liberation Sans").attr("fill", "#5a5f5f");

    // titles
    g.append("text").attr("x", p.xTitleX + 2).attr("y", plotH + p.xTitleY)
        .attr("text-anchor", "middle").attr("font-size", 22).attr("font-weight", "bold").text(p.xTitle);
    g.append("text").attr("transform", "translate(-28," + (plotH / 2 + p.yTitleDy) + ") rotate(-90)")
        .attr("text-anchor", "middle").attr("font-size", 22).attr("font-weight", "bold").text(p.yTitle);
    g.append("text").attr("x", plotW / 2 + 2).attr("y", p.topTitleY)
        .attr("text-anchor", "middle").attr("font-size", 18.5).attr("font-weight", "bold").attr("fill", "#4a5558").text(p.topTitle);
    g.append("text").attr("transform", "translate(" + (plotW + 70) + "," + (plotH / 2 + p.rightTitleDy) + ") rotate(-90)")
        .attr("text-anchor", "middle").attr("font-size", 18.5).attr("font-weight", "bold").attr("fill", "#4a5558").text(p.rightTitle);

    // legend box sits in page coordinates
    svg.append("rect").attr("x", p.box[0]).attr("y", p.box[1]).attr("width", p.box[2]).attr("height", p.box[3]).attr("fill", "#ccd8d6");
    svg.append("text").attr("x", p.letterPos[0]).attr("y", p.letterPos[1]).attr("font-size", 28).attr("font-weight", "bold").text(p.letter);
    p.eq.forEach((d, i) => {
        svg.append("text").attr("x", p.eqX).attr("y", p.eqY[i]).attr("text-anchor", "middle")
            .attr("font-size", 14.8).attr("fill", "#222").text(d);
    });
    svg.append("circle").attr("cx", p.raKey[0]).attr("cy", p.raKey[1]).attr("r", 2.3)
        .attr("fill", "#fff").attr("stroke", "#444").attr("stroke-width", 0.8);
    svg.append("text").attr("x", p.raKey[2]).attr("y", p.raKey[3]).attr("font-size", 14.8).attr("fill", "#222").text("RA");
    svg.append("path").attr("d", triangle).attr("transform", "translate(" + p.vdadKey[0] + "," + p.vdadKey[1] + ")")
        .attr("fill", "#f5a80f").attr("stroke", "#4d3c08").attr("stroke-width", 0.8);
    svg.append("text").attr("x", p.vdadKey[2]).attr("y", p.vdadKey[3]).attr("font-size", 14.8).attr("fill", "#222").text("VDAD");

    let line = d3.line().x(d => x(d[0])).y(d => y(d[1]));

    g.append("g").selectAll("circle")
        .data(p.ra)
        .enter()
        .append("circle")
        .attr("cx", d => x(d[0]))
        .attr("cy", d => y(d[1]))
        .attr("r", 2.2)
        .attr("fill", "#fff")
        .attr("stroke", "#4d5554")
        .attr("stroke-width", 0.7);

    g.append("path").attr("d", line(p.raFit))
        .attr("fill", "none").attr("stroke", "#111").attr("stroke-width", 2).attr("stroke-dasharray", "11,5");

    g.append("g").selectAll("path")
        .data(p.vdad)
        .enter()
        .append("path")
        .attr("d", triangle)
        .attr("transform", d => "translate(" + x(d[0]) + "," + y(d[1]) + ")")
        .attr("fill", "#f5a80f")
        .attr("stroke", "#5c4a0e")
        .attr("stroke-width", 0.8);

    g.append("path").attr("d", line(p.vdadFit))
        .attr("fill", "none").attr("stroke", "#111").attr("stroke-width", 2.2);
}

panels.forEach(drawPanel);
</script>
</body>
</html>
